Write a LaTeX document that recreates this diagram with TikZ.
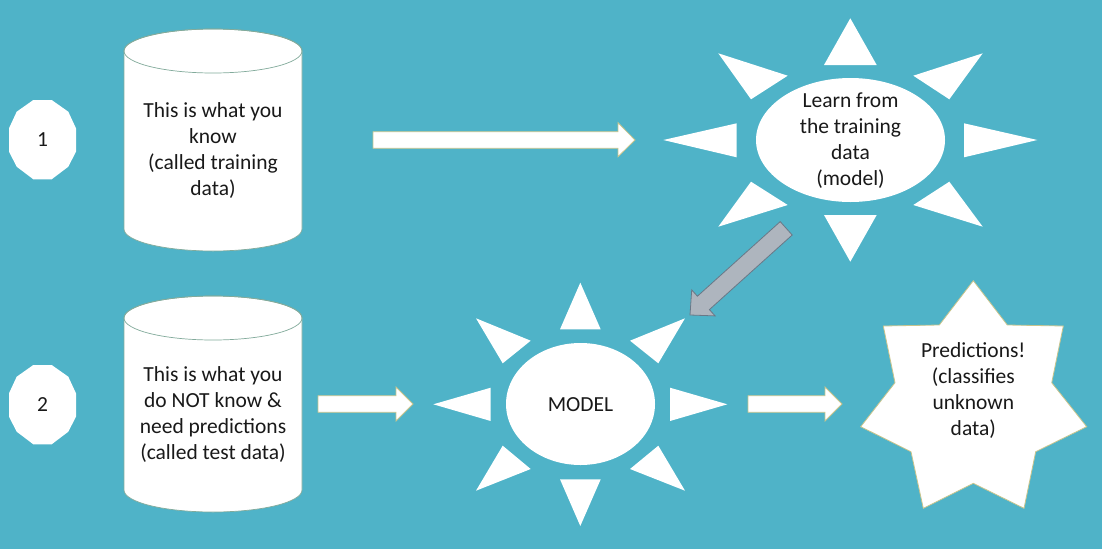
\documentclass[tikz,border=0pt]{standalone}
\usepackage{fontspec}
\setmainfont{Carlito}
\definecolor{bg}{RGB}{79,179,200}
\definecolor{cyl}{RGB}{130,170,155}
\definecolor{tan}{RGB}{200,196,140}
\definecolor{grayfill}{RGB}{174,181,190}
\definecolor{grayline}{RGB}{105,120,135}
\definecolor{ink}{RGB}{25,25,25}
\begin{document}
\begin{tikzpicture}[x=1pt,y=-1pt,
  txt/.style={align=center,text=ink,font=\fontsize{21.5}{26}\selectfont,inner sep=0pt},
  ray/.style={fill=white,draw=none},
  blockarrow/.style={fill=white,draw=tan,line width=0.8pt,line join=miter},
  cylbody/.style={fill=white,draw=cyl,line width=0.7pt}]
\useasboundingbox (0,0) rectangle (1102,549);
\fill[bg] (0,0) rectangle (1102,549);

% number badges
\foreach \dy/\nm/\lab in {0/n1/1,265/n2/2}{
  \begin{scope}[yshift=-\dy pt]
  \fill[white] (33.3,100)--(51.7,100)--(68.3,111.7)--(76,128.3)--(76,151.7)--(68.3,166.7)--(51.7,179.3)--(33.3,179.3)--(16.7,166.7)--(9,151.7)--(9,128.3)--(16.7,111.7)--cycle;
  \node[txt] (\nm) at (42.5,140) {\lab};
  \end{scope}
}

% cylinders
\draw[cylbody] (124,51) -- (124,229) arc[start angle=180,end angle=0,x radius=89,y radius=22] -- (302,51) arc[start angle=0,end angle=-180,x radius=89,y radius=22] -- cycle;
\draw[cyl,line width=0.7pt] (213,51) ellipse[x radius=89,y radius=22];
\node[txt] (c1) at (213,151) {This is what you\\know\\(called training\\data)};

\draw[cylbody] (124,318) -- (124,490) arc[start angle=180,end angle=0,x radius=89,y radius=22] -- (302,318) arc[start angle=0,end angle=-180,x radius=89,y radius=22] -- cycle;
\draw[cyl,line width=0.7pt] (213,318) ellipse[x radius=89,y radius=22];
\node[txt] (c2) at (213,415) {This is what you\\do NOT know \&\\need predictions\\(called test data)};

% block arrow 1
\draw[blockarrow] (373,131.7)--(618,131.7)--(618,122.7)--(635,140)--(618,156.7)--(618,148.3)--(373,148.3)--cycle;
% block arrow 2
\draw[blockarrow] (318,395.7)--(396,395.7)--(396,387)--(413,404)--(396,421)--(396,412.3)--(318,412.3)--cycle;
% block arrow 3
\draw[blockarrow] (748,395.7)--(825,395.7)--(825,387)--(842,404)--(825,421)--(825,412.3)--(748,412.3)--cycle;

% sun 1
\fill[white] (850.5,140) ellipse[x radius=94.5,y radius=62];
\fill[ray] (824,65)--(876.7,65)--(850.3,18.3)--cycle;
\fill[ray] (824,215)--(876.7,215)--(850.3,261.7)--cycle;
\fill[ray] (736.7,123.3)--(736.7,157.3)--(663.3,140)--cycle;
\fill[ray] (964,123.3)--(964,157.3)--(1037.3,140)--cycle;
\fill[ray] (718.3,53.3)--(787.7,75.7)--(751,99.3)--cycle;
\fill[ray] (982.7,53.3)--(913.3,75.7)--(949.3,99.3)--cycle;
\fill[ray] (718.3,226.7)--(787.7,205)--(751,181.7)--cycle;
\fill[ray] (982.7,226.7)--(913.3,205)--(949.3,181.7)--cycle;
\node[txt] (s1) at (850.5,141) {Learn from\\the training\\data\\(model)};

% sun 2
\fill[white] (580.5,404) ellipse[x radius=74.5,y radius=61];
\fill[ray] (560,329.3)--(600.7,329.3)--(580.3,282.7)--cycle;
\fill[ray] (560,479.3)--(600.7,479.3)--(580.3,526)--cycle;
\fill[ray] (490.7,387.7)--(490.7,421)--(433.3,404.3)--cycle;
\fill[ray] (670,387.7)--(670,421)--(727.3,404.3)--cycle;
\fill[ray] (476,318.3)--(530.7,340.7)--(502.7,363.3)--cycle;
\fill[ray] (685,318.3)--(630,340.7)--(658.3,363.3)--cycle;
\fill[ray] (476,490.7)--(530.7,469)--(502.7,445.7)--cycle;
\fill[ray] (685,490.7)--(630,469)--(658.3,445.7)--cycle;
\node[txt] (s2) at (580.5,405) {MODEL};

% gray arrow
\draw[fill=grayfill,draw=grayline,line width=0.8pt,line join=miter]
  (780.2,221.6)--(697.4,296.2)--(691.7,289.9)--(690,315)--(715.1,315.9)--(709.4,309.6)--(792.2,235.0)--cycle;

% star
\draw[fill=white,draw=tan,line width=0.8pt,line join=miter]
  (973.3,280.7)--(1007.3,325)--(1063.3,326)--(1051.7,382.7)--(1086.7,426.7)--(1035.7,451.7)--(1024,508.3)--(973.3,483.3)--(923.3,508.3)--(911,451.7)--(860.7,426.7)--(895,382.7)--(883.3,326)--(939.3,325)--cycle;
\node[txt] (st) at (973.3,391) {Predictions!\\(classifies\\unknown\\data)};
\end{tikzpicture}
\end{document}
